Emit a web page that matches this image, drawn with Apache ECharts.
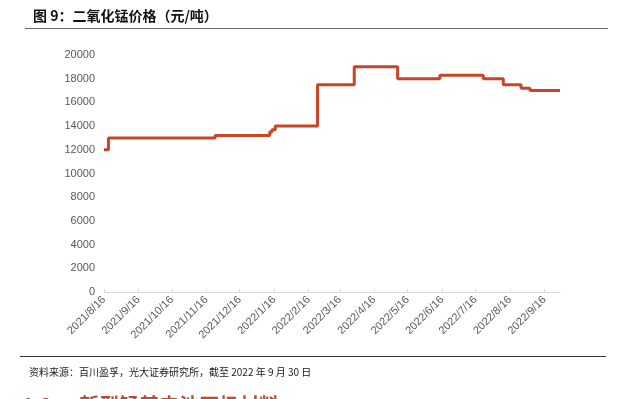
<!DOCTYPE html>
<html><head><meta charset="utf-8">
<script src="https://cdn.jsdelivr.net/npm/echarts@6/dist/echarts.min.js"></script>
<style>html,body{margin:0;padding:0;background:#fff;}#c{width:619px;height:399px;}</style>
</head><body><div id="c"></div>
<script>
// change points of the price series (step line)
var changeDates = ['2021/8/16','2021/8/20','2021/11/24','2022/1/12','2022/1/14','2022/1/17','2022/2/24','2022/3/29','2022/5/7','2022/6/14','2022/7/23','2022/8/10','2022/8/26','2022/9/3','2022/9/30'];
var changeValues = [12000,13000,13200,13500,13700,14000,17500,19000,18000,18300,18000,17500,17200,17000,17000];
var tickDates = ['2021/8/16','2021/9/16','2021/10/16','2021/11/16','2021/12/16','2022/1/16','2022/2/16','2022/3/16','2022/4/16','2022/5/16','2022/6/16','2022/7/16','2022/8/16','2022/9/16'];
var axisStart = '2021/8/16', axisEnd = '2022/9/30';

function ts(s){var p=s.split('/');return Date.UTC(+p[0],+p[1]-1,+p[2]);}
function fmt(v){var d=new Date(v);return d.getUTCFullYear()+'/'+(d.getUTCMonth()+1)+'/'+d.getUTCDate();}

var data = changeDates.map(function(d,i){return [ts(d), changeValues[i]];});
var ticks = tickDates.map(ts);

var chart = echarts.init(document.getElementById('c'));
var font = '"Liberation Sans", Arial, sans-serif';
chart.setOption({
  animation:false,
  grid:{left:104,right:59,top:55,bottom:107,containLabel:false},
  xAxis:{type:'value',min:ts(axisStart),max:ts(axisEnd),
    axisLine:{show:true,lineStyle:{color:'#d9d9d9',width:1}},
    axisTick:{show:true,inside:true,length:3,lineStyle:{color:'#d9d9d9'},customValues:ticks},
    axisLabel:{customValues:ticks,rotate:45,formatter:function(v){return fmt(v);},color:'#595959',fontSize:11,fontFamily:font,margin:6},
    splitLine:{show:false}},
  yAxis:{type:'value',min:0,max:20000,interval:2000,
    axisLine:{show:false},axisTick:{show:false},splitLine:{show:false},
    axisLabel:{color:'#595959',fontSize:11,fontFamily:font,margin:9,formatter:function(v){return String(v);}}},
  series:[{type:'line',step:'end',data:data,symbol:'none',
    lineStyle:{color:'#C94527',width:3}}],
  graphic:[
    {type:'text',left:33,top:9,style:{text:'图 9：二氧化锰价格（元/吨）',font:'bold 14px "Noto Sans CJK SC", sans-serif',fill:'#111'}},
    {type:'rect',shape:{x:25,y:28,width:583,height:1},style:{fill:'#666'}},
    {type:'rect',shape:{x:20,y:356,width:586,height:1},style:{fill:'#333'}},
    {type:'text',left:29,top:367,style:{text:'资料来源：百川盈孚，光大证券研究所，截至 2022 年 9 月 30 日',font:'10px "Noto Sans CJK SC", sans-serif',fill:'#222'}},
    {type:'text',left:22,top:395,style:{text:'1.2      新型锰基电池正极材料',font:'bold 20px "Noto Sans CJK SC", sans-serif',fill:'#C94527'}}
  ]
});
</script></body></html>
